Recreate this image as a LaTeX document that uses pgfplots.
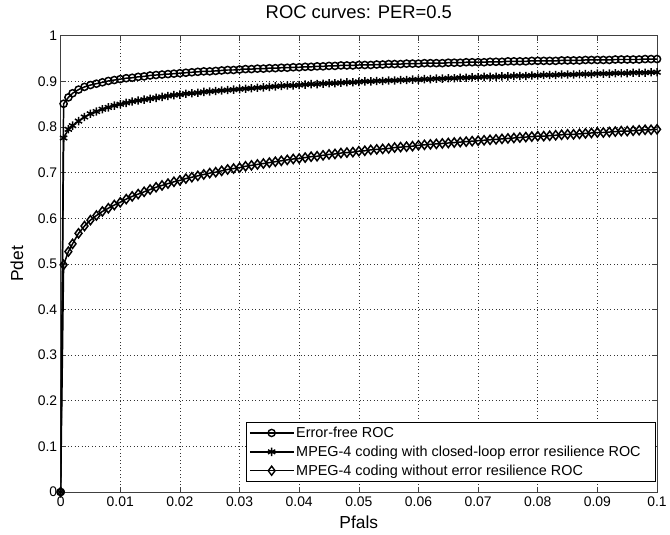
\documentclass[border=0pt]{standalone}
\usepackage{fontspec}
\setmainfont{Liberation Sans}
\usepackage{pgfplots}
\usepackage{pgfplotstable}
\pgfplotsset{compat=1.18}

% columns: Pfals, error-free, closed-loop resilience, no resilience
\pgfplotstableread{
x E S D
0 0 0 0
0.0005 0.851 0.776 0.498
0.0013 0.865 0.795 0.527
0.002 0.874 0.803 0.544
0.003 0.882 0.813 0.567
0.004 0.888 0.822 0.583
0.005 0.892 0.829 0.596
0.006 0.895 0.834 0.606
0.007 0.898 0.839 0.615
0.008 0.901 0.843 0.622
0.009 0.903 0.847 0.629
0.010 0.905 0.850 0.635
0.011 0.907 0.853 0.642
0.012 0.908 0.856 0.648
0.013 0.910 0.858 0.653
0.014 0.911 0.860 0.658
0.015 0.913 0.862 0.663
0.016 0.914 0.864 0.668
0.017 0.915 0.866 0.672
0.018 0.916 0.868 0.676
0.019 0.917 0.870 0.680
0.020 0.918 0.871 0.683
0.021 0.919 0.873 0.687
0.022 0.920 0.874 0.690
0.023 0.921 0.875 0.693
0.024 0.922 0.877 0.696
0.025 0.922 0.878 0.699
0.026 0.923 0.879 0.701
0.027 0.924 0.880 0.704
0.028 0.925 0.881 0.707
0.029 0.925 0.882 0.709
0.030 0.926 0.883 0.711
0.031 0.927 0.884 0.714
0.032 0.927 0.885 0.716
0.033 0.928 0.886 0.718
0.034 0.928 0.887 0.720
0.035 0.929 0.888 0.722
0.036 0.929 0.889 0.724
0.037 0.930 0.890 0.726
0.038 0.930 0.891 0.728
0.039 0.931 0.891 0.730
0.040 0.931 0.892 0.731
0.041 0.932 0.893 0.733
0.042 0.932 0.894 0.735
0.043 0.933 0.894 0.736
0.044 0.933 0.895 0.738
0.045 0.934 0.896 0.740
0.046 0.934 0.896 0.741
0.047 0.935 0.897 0.743
0.048 0.935 0.898 0.744
0.049 0.935 0.898 0.745
0.050 0.936 0.899 0.747
0.051 0.936 0.900 0.748
0.052 0.936 0.900 0.750
0.053 0.937 0.901 0.751
0.054 0.937 0.901 0.752
0.055 0.938 0.902 0.753
0.056 0.938 0.902 0.755
0.057 0.938 0.903 0.756
0.058 0.939 0.903 0.757
0.059 0.939 0.904 0.758
0.060 0.939 0.904 0.760
0.061 0.940 0.905 0.761
0.062 0.940 0.905 0.762
0.063 0.940 0.906 0.763
0.064 0.940 0.906 0.764
0.065 0.941 0.907 0.765
0.066 0.941 0.907 0.766
0.067 0.941 0.908 0.767
0.068 0.942 0.908 0.768
0.069 0.942 0.909 0.769
0.070 0.942 0.909 0.770
0.071 0.942 0.910 0.771
0.072 0.943 0.910 0.772
0.073 0.943 0.910 0.773
0.074 0.943 0.911 0.774
0.075 0.944 0.911 0.775
0.076 0.944 0.912 0.776
0.077 0.944 0.912 0.777
0.078 0.944 0.912 0.778
0.079 0.945 0.913 0.779
0.080 0.945 0.913 0.780
0.081 0.945 0.914 0.780
0.082 0.945 0.914 0.781
0.083 0.945 0.914 0.782
0.084 0.946 0.915 0.783
0.085 0.946 0.915 0.784
0.086 0.946 0.915 0.784
0.087 0.946 0.916 0.785
0.088 0.947 0.916 0.786
0.089 0.947 0.916 0.787
0.090 0.947 0.917 0.788
0.091 0.947 0.917 0.788
0.092 0.947 0.917 0.789
0.093 0.948 0.918 0.790
0.094 0.948 0.918 0.791
0.095 0.948 0.918 0.791
0.096 0.948 0.919 0.792
0.097 0.948 0.919 0.793
0.098 0.949 0.919 0.794
0.099 0.949 0.920 0.794
0.100 0.949 0.920 0.795
}\roc

\begin{document}
\begin{tikzpicture}
\path (-61bp,-43bp) rectangle (609bp,495bp);
\begin{axis}[
    at={(0,0)}, anchor=south west,
    scale only axis,
    width=600bp, height=459bp,
    xmin=0, xmax=0.1, ymin=0, ymax=1,
    xtick={0,0.01,0.02,0.03,0.04,0.05,0.06,0.07,0.08,0.09,0.1},
    xticklabels={0,0.01,0.02,0.03,0.04,0.05,0.06,0.07,0.08,0.09,0.1},
    ytick={0,0.1,0.2,0.3,0.4,0.5,0.6,0.7,0.8,0.9,1},
    yticklabels={0,0.1,0.2,0.3,0.4,0.5,0.6,0.7,0.8,0.9,1},
    tick align=inside,
    major tick length=5bp,
    tick style={black!75, line width=0.6bp},
    axis line style={black!75, line width=0.9bp},
    grid=major,
    major grid style={black!80, line width=0.6bp, dash pattern=on 0.9bp off 2.6bp},
    ticklabel style={font=\fontsize{14bp}{16bp}\selectfont},
    xticklabel style={yshift=-1bp},
    title={ROC curves: PER=0.5},
    title style={font=\fontsize{18.5bp}{20bp}\selectfont, at={(axis description cs:0.5,1)}, anchor=base, yshift=11bp},
    xlabel={Pfals},
    xlabel style={font=\fontsize{17.5bp}{19bp}\selectfont, at={(axis description cs:0.5,0)}, anchor=base, yshift=-37bp},
    ylabel={Pdet},
    ylabel style={font=\fontsize{17.5bp}{19bp}\selectfont, at={(axis description cs:0,0.5)}, anchor=center, yshift=44bp},
    legend image code/.code={
        \draw[line width=1.5bp, mark options={line width=1.4bp}, mark repeat=2, mark phase=2] plot coordinates {(0bp,0bp) (22bp,0bp) (44bp,0bp)};
    },
    legend style={
        at={(1,0)}, anchor=south east, xshift=-1bp, yshift=10bp,
        draw=black, line width=0.9bp, fill=white,
        font=\fontsize{14.5bp}{16bp}\selectfont,
        inner xsep=3bp, inner ysep=3bp,
        row sep=3bp,
        cells={anchor=west},
    },
    every axis plot/.append style={black, line width=1.5bp, mark options={solid, line width=1.5bp}},
]
\addplot[mark=o, mark size=3.6bp] table[x=x, y=E] {\roc};
\addlegendentry{Error-free ROC\hspace*{10bp}}
\addplot[mark=asterisk, mark size=4.2bp] table[x=x, y=S] {\roc};
\addlegendentry{MPEG-4 coding with closed-loop error resilience ROC\hspace*{10bp}}
\addplot[mark=diamond, mark size=4.6bp] table[x=x, y=D] {\roc};
\addlegendentry{MPEG-4 coding without error resilience ROC\hspace*{10bp}}
\end{axis}
\end{tikzpicture}
\end{document}
